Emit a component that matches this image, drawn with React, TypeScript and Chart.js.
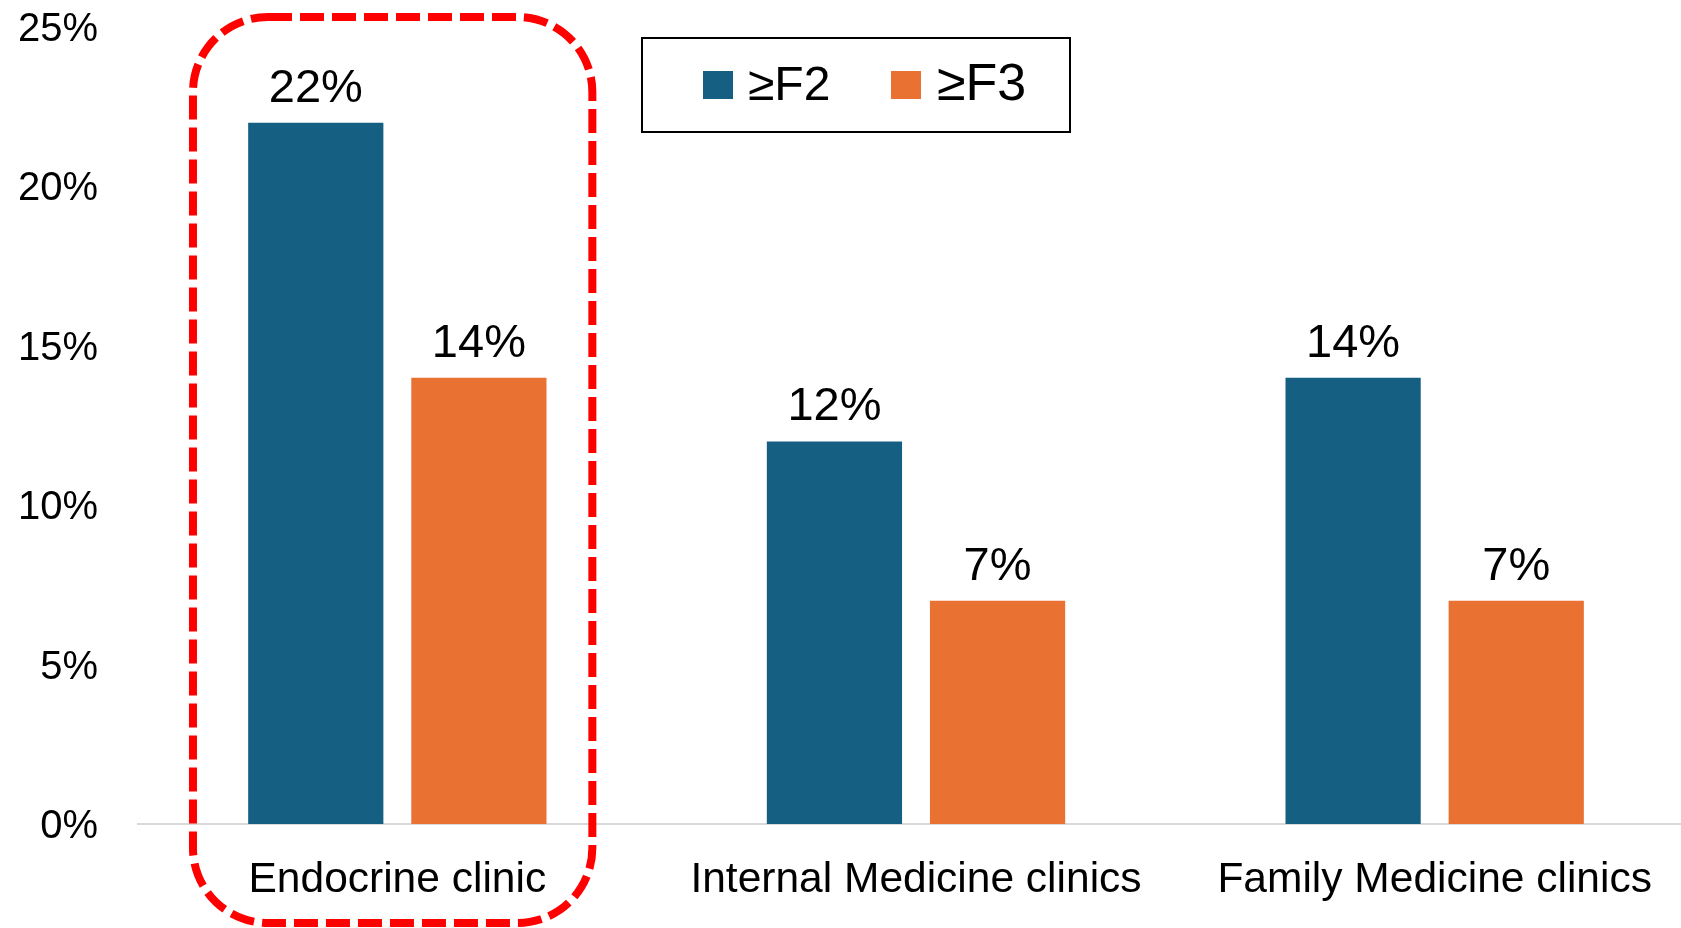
import React, { useEffect, useRef } from "react";
import { Chart, registerables } from "chart.js";

Chart.register(...registerables);

// ---- Data ----
const categories = ["Endocrine clinic", "Internal Medicine clinics", "Family Medicine clinics"];
const seriesNames = ["≥F2", "≥F3"];
const f2Values = [22, 12, 14];
const f3Values = [14, 7, 7];
const yTickValues = [0, 5, 10, 15, 20, 25];
const highlightedCategory = 0;

// ---- Styles ----
const BLUE = "#156082";
const ORANGE = "#E97132";
const FONT = '"Liberation Sans", Arial, sans-serif';
const CANVAS_W = 1700;
const CANVAS_H = 928;

const dataLabelPlugin = {
  id: "dataLabels",
  afterDatasetsDraw(chart: any) {
    const ctx = chart.ctx;
    ctx.save();
    ctx.font = `47px ${FONT}`;
    ctx.fillStyle = "#000";
    ctx.textAlign = "center";
    ctx.textBaseline = "alphabetic";
    chart.data.datasets.forEach((ds: any, i: number) => {
      chart.getDatasetMeta(i).data.forEach((bar: any, j: number) => {
        ctx.fillText(`${ds.data[j]}%`, bar.x, bar.y - 21);
      });
    });
    ctx.restore();
  },
};

const highlightPlugin = {
  id: "highlightBox",
  afterDraw(chart: any) {
    const xs = chart.scales.x;
    const cx = xs.getPixelForValue(highlightedCategory);
    const cw = xs.width / categories.length;
    const left = cx - 0.394 * cw;
    const right = cx + 0.376 * cw;
    const top = 17;
    const bottom = chart.height - 5;
    const ctx = chart.ctx;
    ctx.save();
    ctx.strokeStyle = "#FF0000";
    ctx.lineWidth = 8;
    ctx.setLineDash([24, 8]);
    ctx.beginPath();
    ctx.roundRect(left, top, right - left, bottom - top, 75);
    ctx.stroke();
    ctx.restore();
  },
};

const legendPlugin = {
  id: "boxLegend",
  afterDraw(chart: any) {
    const ctx = chart.ctx;
    ctx.save();
    ctx.strokeStyle = "#000";
    ctx.lineWidth = 2;
    ctx.strokeRect(642, 38, 428, 94);
    const items = [
      { x: 703, textX: 748, size: 48 },
      { x: 891, textX: 937, size: 52 },
    ];
    chart.data.datasets.forEach((ds: any, i: number) => {
      const it = items[i];
      ctx.fillStyle = ds.backgroundColor;
      ctx.fillRect(it.x, 71, 30, 28);
      ctx.fillStyle = "#000";
      ctx.font = `${it.size}px ${FONT}`;
      ctx.textAlign = "left";
      ctx.textBaseline = "alphabetic";
      ctx.fillText(ds.label, it.textX, 100);
    });
    ctx.restore();
  },
};

export default function App() {
  const canvasRef = useRef<HTMLCanvasElement | null>(null);

  useEffect(() => {
    if (!canvasRef.current) return;
    Chart.defaults.font.family = FONT;
    const chart = new Chart(canvasRef.current, {
      type: "bar",
      data: {
        labels: categories,
        datasets: [
          {
            label: seriesNames[0],
            data: f2Values,
            backgroundColor: BLUE,
            categoryPercentage: 0.629,
            barPercentage: 0.829,
          },
          {
            label: seriesNames[1],
            data: f3Values,
            backgroundColor: ORANGE,
            categoryPercentage: 0.629,
            barPercentage: 0.829,
          },
        ],
      },
      options: {
        responsive: false,
        animation: false,
        devicePixelRatio: 1,
        layout: { padding: { top: 27, right: 6, left: 0, bottom: 0 } },
        plugins: {
          legend: { display: false },
          tooltip: { enabled: false },
        },
        scales: {
          x: {
            grid: { display: false, drawTicks: false },
            border: { display: true, color: "#d9d9d9", width: 2 },
            ticks: {
              color: "#000",
              font: { size: 42.5, family: FONT },
              padding: 31,
              maxRotation: 0,
              autoSkip: false,
            },
            afterFit(scale: any) {
              scale.height = 104;
            },
          },
          y: {
            min: 0,
            max: 25,
            grid: { display: false, drawTicks: false },
            border: { display: false },
            afterBuildTicks(scale: any) {
              scale.ticks = yTickValues.map((v) => ({ value: v }));
            },
            ticks: {
              color: "#000",
              font: { size: 40, family: FONT },
              padding: 40,
              labelOffset: 3,
              callback: (v: any) => `${v}%`,
            },
            afterFit(scale: any) {
              scale.width = 138;
              scale.paddingTop = 0;
              scale.paddingBottom = 0;
            },
          },
        },
      },
      plugins: [dataLabelPlugin, highlightPlugin, legendPlugin],
    });
    return () => chart.destroy();
  }, []);

  return (
    <div
      style={{
        position: "absolute",
        left: 0,
        top: 0,
        width: 1681,
        height: 928,
        overflow: "hidden",
        background: "#fff",
      }}
    >
      <canvas ref={canvasRef} width={CANVAS_W} height={CANVAS_H} style={{ display: "block" }} />
    </div>
  );
}
